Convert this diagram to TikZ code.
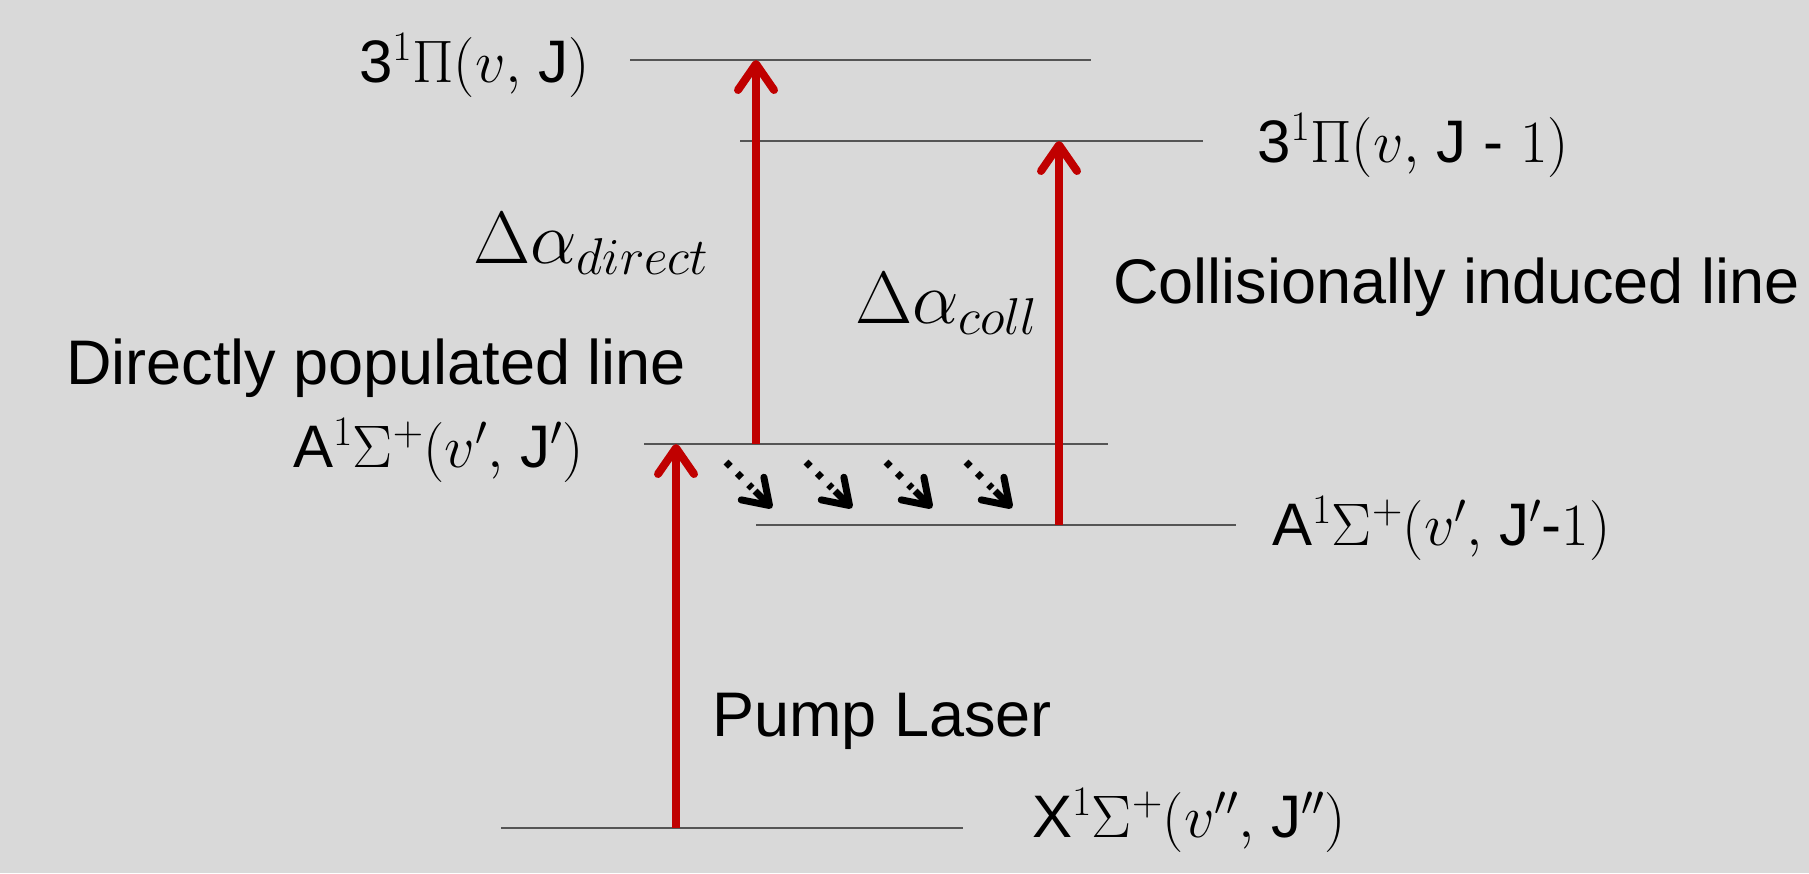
\RequirePackage{fix-cm}
\documentclass[tikz,border=0pt]{standalone}
\usepackage[no-math]{fontspec}
\setmainfont{Liberation Sans}
\usetikzlibrary{arrows.meta,calc}
\definecolor{bg}{HTML}{D9D9D9}
\definecolor{myred}{HTML}{C00000}
\definecolor{lvl}{HTML}{555555}
\begin{document}
\begin{tikzpicture}[x=1pt,y=-1pt,
  level/.style={draw=lvl, line width=1.6pt},
  redarrow/.style={draw=myred, line width=8pt, -{Straight Barb[round,length=26pt,width=36pt]}},
  dotline/.style={draw=black, line width=7pt, dash pattern=on 6pt off 10pt},
  dothead/.style={draw=black, line width=7pt, -{Straight Barb[round,length=24pt,width=32pt]}},
  lbl/.style={inner sep=0pt, font=\fontsize{60}{72}\selectfont},
  txt/.style={inner sep=0pt, font=\fontsize{63}{76}\selectfont},
  dlt/.style={inner sep=0pt, font=\fontsize{74}{88}\selectfont}]
\useasboundingbox (0,0) rectangle (1809,873);
\fill[bg] (0,0) rectangle (1809,873);

% energy levels
\coordinate (l1a) at (630,60);  \coordinate (l1b) at (1091,60);
\coordinate (l2a) at (740,141); \coordinate (l2b) at (1203,141);
\coordinate (l3a) at (644,444); \coordinate (l3b) at (1108,444);
\coordinate (l4a) at (756,525); \coordinate (l4b) at (1236,525);
\coordinate (l5a) at (501,828); \coordinate (l5b) at (963,828);
\draw[level] (l1a) -- (l1b);
\draw[level] (l2a) -- (l2b);
\draw[level] (l3a) -- (l3b);
\draw[level] (l4a) -- (l4b);
\draw[level] (l5a) -- (l5b);

% red transitions
\coordinate (pumpS) at (676,828); \coordinate (pumpE) at (676,444);
\coordinate (dirS) at (756,444);  \coordinate (dirE) at (756,60);
\coordinate (colS) at (1059,525); \coordinate (colE) at (1059,141);
\draw[redarrow] (pumpS) -- (pumpE);
\draw[redarrow] (dirS) -- (dirE);
\draw[redarrow] (colS) -- (colE);

% collisional transfer arrows
\foreach \i in {0,1,2,3}{
  \coordinate (d\i s) at ({726+80*\i},462);
  \coordinate (d\i m) at ({752+80*\i},488);
  \coordinate (d\i h) at ({755+80*\i},491);
  \coordinate (d\i e) at ({772+80*\i},508);
  \draw[dotline] (d\i s) -- (d\i m);
  \draw[dothead] (d\i h) -- (d\i e);
}

% level labels
\node[lbl, anchor=base east] (t1) at (590,82) {3$^1\Pi(v,$ J$)$};
\node[lbl, anchor=base west] (t2) at (1257,162) {3$^1\Pi(v,$ J - $1)$};
\node[lbl, anchor=base east] (t3) at (584,467) {A${}^1\Sigma^+(v',$ J$')$};
\node[lbl, anchor=base west] (t4) at (1272,545) {A${}^1\Sigma^+(v',$ J$'$-$1)$};
\node[lbl, anchor=base west] (t5) at (1032,837) {X${}^1\Sigma^+(v'',$ J$'')$};

% descriptions
\node[txt, anchor=base west] (dp) at (66,384) {Directly populated line};
\node[txt, anchor=base west] (ci) at (1113,303) {Collisionally induced line};
\node[txt, anchor=base west] (pl) at (712,736) {Pump Laser};
\node[dlt, anchor=base west] (ad) at (473,263) {$\Delta\alpha_{direct}$};
\node[dlt, anchor=base west] (ac) at (855,323) {$\Delta\alpha_{coll}$};
\end{tikzpicture}
\end{document}
